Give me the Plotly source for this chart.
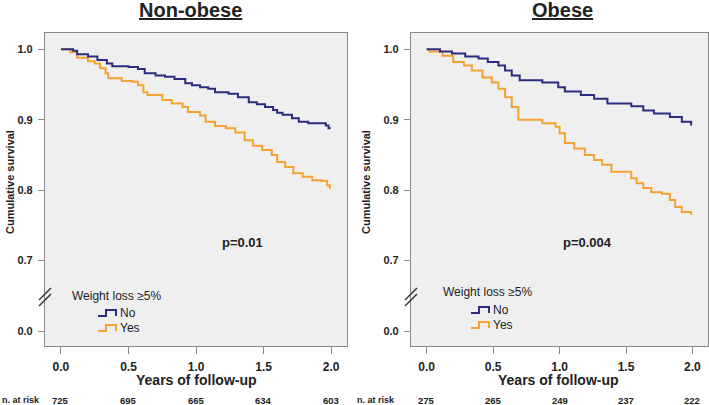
import plotly.graph_objects as go

W, H = 709, 405

# ---------------- data ----------------
years_ticks = [0.0, 0.5, 1.0, 1.5, 2.0]
y_tickvals = [0.6, 0.7, 0.8, 0.9, 1.0]
y_ticktext = ["0.0", "0.7", "0.8", "0.9", "1.0"]

nonobese_no_t = [0.0, 0.09, 0.12, 0.20, 0.27, 0.34, 0.38, 0.50, 0.57, 0.62, 0.70, 0.77, 0.84, 0.92, 0.97, 1.03, 1.09, 1.14, 1.24, 1.31, 1.39, 1.45, 1.51, 1.57, 1.60, 1.64, 1.71, 1.76, 1.83, 1.96, 1.98, 1.99]
nonobese_no_s = [1.0, 0.998, 0.993, 0.990, 0.985, 0.980, 0.976, 0.975, 0.972, 0.966, 0.963, 0.961, 0.958, 0.952, 0.949, 0.946, 0.944, 0.939, 0.937, 0.932, 0.925, 0.922, 0.918, 0.914, 0.910, 0.907, 0.902, 0.897, 0.895, 0.892, 0.888, 0.887]

nonobese_yes_t = [0.0, 0.07, 0.12, 0.20, 0.25, 0.29, 0.33, 0.35, 0.45, 0.53, 0.57, 0.61, 0.64, 0.75, 0.82, 0.90, 0.94, 1.03, 1.07, 1.14, 1.22, 1.29, 1.36, 1.42, 1.49, 1.56, 1.60, 1.66, 1.72, 1.79, 1.86, 1.93, 1.97, 1.99]
nonobese_yes_s = [1.0, 0.996, 0.988, 0.983, 0.980, 0.973, 0.966, 0.959, 0.955, 0.954, 0.949, 0.939, 0.935, 0.928, 0.923, 0.918, 0.911, 0.906, 0.897, 0.891, 0.888, 0.882, 0.871, 0.863, 0.857, 0.850, 0.840, 0.833, 0.824, 0.819, 0.814, 0.813, 0.807, 0.802]

obese_no_t = [0.0, 0.10, 0.19, 0.29, 0.39, 0.46, 0.54, 0.59, 0.64, 0.70, 0.87, 0.99, 1.04, 1.16, 1.26, 1.36, 1.54, 1.63, 1.71, 1.83, 1.92, 1.99]
obese_no_s = [1.0, 0.997, 0.994, 0.990, 0.987, 0.982, 0.977, 0.970, 0.963, 0.956, 0.953, 0.946, 0.940, 0.935, 0.930, 0.923, 0.919, 0.913, 0.909, 0.904, 0.897, 0.892]

obese_yes_t = [0.0, 0.02, 0.12, 0.20, 0.28, 0.34, 0.42, 0.49, 0.54, 0.59, 0.64, 0.69, 0.87, 0.97, 1.00, 1.04, 1.11, 1.19, 1.26, 1.32, 1.39, 1.54, 1.58, 1.63, 1.69, 1.77, 1.83, 1.87, 1.92, 1.99]
obese_yes_s = [1.0, 0.997, 0.991, 0.982, 0.977, 0.970, 0.960, 0.953, 0.944, 0.932, 0.918, 0.900, 0.895, 0.890, 0.881, 0.867, 0.859, 0.850, 0.843, 0.836, 0.826, 0.817, 0.810, 0.803, 0.797, 0.795, 0.786, 0.776, 0.769, 0.765]

nonobese_at_risk = [725, 695, 665, 634, 603]
obese_at_risk = [275, 265, 249, 237, 222]

panel_titles = ["Non-obese", "Obese"]
p_values = ["p=0.01", "p=0.004"]
group_labels = ["No", "Yes"]
legend_title = "Weight loss \u22655%"

NAVY = "#2c2c80"
ORANGE = "#f6a233"
BG = "#efefef"
FRAME = "#8a8a8a"
TXT = "#222222"
FONT = "Liberation Sans, Arial, sans-serif"

# ---------------- layout geometry (pixels) ----------------
panels = [
    dict(x0=45, x1=347),
    dict(x0=411, x1=708),
]
top_px, bot_px = 33, 346
xr = [-0.118, 2.117]
yr = [0.5787, 1.0232]


def px(x):
    return x / W


def py(y):
    return 1 - y / H


fig = go.Figure()

series = [
    (nonobese_no_t, nonobese_no_s, nonobese_yes_t, nonobese_yes_s),
    (obese_no_t, obese_no_s, obese_yes_t, obese_yes_s),
]

for i, (t1, s1, t2, s2) in enumerate(series):
    xa = "x" if i == 0 else "x2"
    ya = "y" if i == 0 else "y2"
    fig.add_trace(go.Scatter(x=t2, y=s2, mode="lines", line=dict(color=ORANGE, width=2, shape="hv"),
                             xaxis=xa, yaxis=ya, showlegend=False, hoverinfo="skip"))
    fig.add_trace(go.Scatter(x=t1, y=s1, mode="lines", line=dict(color=NAVY, width=2, shape="hv"),
                             xaxis=xa, yaxis=ya, showlegend=False, hoverinfo="skip"))

axis_common_x = dict(range=xr, tickvals=years_ticks, ticktext=[f"{v:.1f}" for v in years_ticks],
                     ticks="outside", ticklen=7, tickcolor=FRAME, showline=True, linecolor=FRAME,
                     mirror=True, linewidth=1.2, showgrid=False, zeroline=False,
                     tickfont=dict(family=FONT, size=12, color=TXT, weight="bold"),
                     ticklabelstandoff=2)
axis_common_y = dict(range=yr, tickvals=y_tickvals, ticktext=y_ticktext,
                     ticks="outside", ticklen=6, tickcolor=FRAME, showline=True, linecolor=FRAME,
                     mirror=True, linewidth=1.2, showgrid=False, zeroline=False,
                     tickfont=dict(family=FONT, size=11, color=TXT, weight="bold"),
                     ticklabelstandoff=3)

fig.update_layout(
    width=W, height=H, margin=dict(l=0, r=0, t=0, b=0),
    paper_bgcolor="white", plot_bgcolor=BG, showlegend=False,
    xaxis=dict(domain=[px(panels[0]["x0"]), px(panels[0]["x1"])], anchor="y", **axis_common_x),
    yaxis=dict(domain=[py(bot_px), py(top_px)], anchor="x", **axis_common_y),
    xaxis2=dict(domain=[px(panels[1]["x0"]), px(panels[1]["x1"])], anchor="y2", **axis_common_x),
    yaxis2=dict(domain=[py(bot_px), py(top_px)], anchor="x2", **axis_common_y),
)

annotations = []
shapes = []

title_cx = [190, 562]
ytitle_cx = [10, 366]
xtitle_cx = [196, 558]
risk_lbl_cx = [21, 376]
legend_x = [72, 443]
legend_y = [296, 292]
item_y = [(313, 328), (310, 325)]
glyph_x = [98, 471]
risks = [nonobese_at_risk, obese_at_risk]

for i in range(2):
    xa = "x" if i == 0 else "x2"
    ya = "y" if i == 0 else "y2"
    # panel title
    annotations.append(dict(text=f"<b><u>{panel_titles[i]}</u></b>", x=px(title_cx[i]), y=py(10),
                            xref="paper", yref="paper", showarrow=False, xanchor="center", yanchor="middle",
                            font=dict(family=FONT, size=20, color=TXT)))
    # y title
    annotations.append(dict(text="<b>Cumulative survival</b>", x=px(ytitle_cx[i]), y=py(182),
                            xref="paper", yref="paper", showarrow=False, textangle=-90,
                            xanchor="center", yanchor="middle",
                            font=dict(family=FONT, size=11, color=TXT)))
    # x title
    annotations.append(dict(text="<b>Years of follow-up</b>", x=px(xtitle_cx[i]), y=py(380),
                            xref="paper", yref="paper", showarrow=False, xanchor="center", yanchor="middle",
                            font=dict(family=FONT, size=14, color=TXT)))
    # n at risk
    annotations.append(dict(text="<b>n. at risk</b>", x=px(risk_lbl_cx[i]), y=py(400),
                            xref="paper", yref="paper", showarrow=False, xanchor="center", yanchor="middle",
                            font=dict(family=FONT, size=9, color=TXT)))
    for t, n in zip(years_ticks, risks[i]):
        annotations.append(dict(text=f"<b>{n}</b>", x=t, y=py(400), xref=xa, yref="paper",
                                showarrow=False, xanchor="center", yanchor="middle",
                                font=dict(family=FONT, size=9.5, color=TXT)))
    # p value
    annotations.append(dict(text=f"<b>{p_values[i]}</b>", x=[1.34, 1.21][i], y=0.725, xref=xa, yref=ya,
                            showarrow=False, xanchor="center", yanchor="middle",
                            font=dict(family=FONT, size=13, color=TXT)))
    # legend
    annotations.append(dict(text=legend_title, x=px(legend_x[i] - 2), y=py(legend_y[i]),
                            xref="paper", yref="paper", showarrow=False, xanchor="left", yanchor="middle",
                            font=dict(family=FONT, size=12, color=TXT)))
    for j, (lbl, col) in enumerate(zip(group_labels, [NAVY, ORANGE])):
        yc = item_y[i][j]
        annotations.append(dict(text=lbl, x=px(glyph_x[i] + 20), y=py(yc),
                                xref="paper", yref="paper", showarrow=False, xanchor="left", yanchor="middle",
                                font=dict(family=FONT, size=12, color=TXT)))
        gx = glyph_x[i]
        yb, ytop = py(yc + 3), py(yc - 3)
        path = (f"M {px(gx)},{yb} L {px(gx + 8)},{yb} L {px(gx + 8)},{ytop} "
                f"L {px(gx + 18)},{ytop} L {px(gx + 18)},{yb}")
        shapes.append(dict(type="path", path=path, xref="paper", yref="paper",
                           line=dict(color=col, width=2)))
    # axis break marks
    x0 = panels[i]["x0"]
    for dy in (-3, 3):
        yc = 297 + dy
        shapes.append(dict(type="line", xref="paper", yref="paper",
                           x0=px(x0 - 6), y0=py(yc + 6), x1=px(x0 + 6), y1=py(yc - 6),
                           line=dict(color="#333333", width=1.5)))

fig.update_layout(annotations=annotations, shapes=shapes)
fig.write_html("out.html", config={"displayModeBar": False},
               post_script="document.body.style.margin='0';document.body.style.overflow='hidden';")
